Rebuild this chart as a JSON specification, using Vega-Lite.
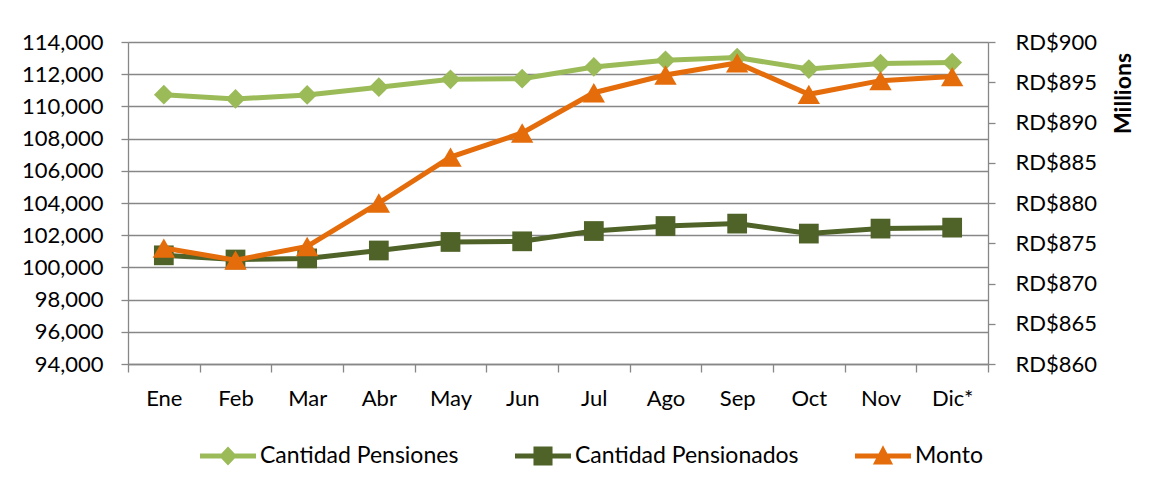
{
  "$schema": "https://vega.github.io/schema/vega-lite/v6.json",
  "width": 860,
  "height": 322,
  "autosize": {"type": "none"},
  "padding": {"left": 128, "top": 42, "right": 171, "bottom": 125},
  "background": "white",
  "config": {
    "font": "Lato",
    "view": {"stroke": null},
    "axis": {
      "labelFont": "Lato",
      "labelFontSize": 22,
      "labelColor": "#000000",
      "domainColor": "#878787",
      "domainWidth": 1.3,
      "tickColor": "#878787",
      "tickWidth": 1.3,
      "gridColor": "#878787",
      "gridWidth": 1.3,
      "titleColor": "#000000"
    },
    "legend": {
      "title": null,
      "orient": "none",
      "direction": "horizontal",
      "legendX": 72,
      "legendY": 386,
      "padding": 0,
      "labelFont": "Lato",
      "labelFontSize": 23,
      "labelColor": "#000000",
      "labelLimit": 0,
      "labelOffset": 4,
      "columnPadding": 56,
      "symbolSize": 3136,
      "symbolStrokeWidth": 0,
      "symbolOpacity": 1
    }
  },
  "datasets": {
    "conteos": [
      {"mes": "Ene", "serie": "Cantidad Pensiones", "valor": 110730},
      {"mes": "Feb", "serie": "Cantidad Pensiones", "valor": 110460},
      {"mes": "Mar", "serie": "Cantidad Pensiones", "valor": 110710},
      {"mes": "Abr", "serie": "Cantidad Pensiones", "valor": 111190},
      {"mes": "May", "serie": "Cantidad Pensiones", "valor": 111680},
      {"mes": "Jun", "serie": "Cantidad Pensiones", "valor": 111720},
      {"mes": "Jul", "serie": "Cantidad Pensiones", "valor": 112450},
      {"mes": "Ago", "serie": "Cantidad Pensiones", "valor": 112860},
      {"mes": "Sep", "serie": "Cantidad Pensiones", "valor": 113030},
      {"mes": "Oct", "serie": "Cantidad Pensiones", "valor": 112320},
      {"mes": "Nov", "serie": "Cantidad Pensiones", "valor": 112660},
      {"mes": "Dic*", "serie": "Cantidad Pensiones", "valor": 112720},
      {"mes": "Ene", "serie": "Cantidad Pensionados", "valor": 100750},
      {"mes": "Feb", "serie": "Cantidad Pensionados", "valor": 100490},
      {"mes": "Mar", "serie": "Cantidad Pensionados", "valor": 100560},
      {"mes": "Abr", "serie": "Cantidad Pensionados", "valor": 101050},
      {"mes": "May", "serie": "Cantidad Pensionados", "valor": 101580},
      {"mes": "Jun", "serie": "Cantidad Pensionados", "valor": 101620},
      {"mes": "Jul", "serie": "Cantidad Pensionados", "valor": 102260},
      {"mes": "Ago", "serie": "Cantidad Pensionados", "valor": 102570},
      {"mes": "Sep", "serie": "Cantidad Pensionados", "valor": 102720},
      {"mes": "Oct", "serie": "Cantidad Pensionados", "valor": 102100},
      {"mes": "Nov", "serie": "Cantidad Pensionados", "valor": 102410},
      {"mes": "Dic*", "serie": "Cantidad Pensionados", "valor": 102470}
    ],
    "monto": [
      {"mes": "Ene", "serie": "Monto", "valor": 874.4},
      {"mes": "Feb", "serie": "Monto", "valor": 872.9},
      {"mes": "Mar", "serie": "Monto", "valor": 874.6},
      {"mes": "Abr", "serie": "Monto", "valor": 880.0},
      {"mes": "May", "serie": "Monto", "valor": 885.7},
      {"mes": "Jun", "serie": "Monto", "valor": 888.7},
      {"mes": "Jul", "serie": "Monto", "valor": 893.7},
      {"mes": "Ago", "serie": "Monto", "valor": 895.9},
      {"mes": "Sep", "serie": "Monto", "valor": 897.4},
      {"mes": "Oct", "serie": "Monto", "valor": 893.5},
      {"mes": "Nov", "serie": "Monto", "valor": 895.2},
      {"mes": "Dic*", "serie": "Monto", "valor": 895.7}
    ]
  },
  "layer": [
    {
      "data": {"name": "conteos"},
      "encoding": {
        "x": {
          "field": "mes", "type": "nominal",
          "sort": ["Ene", "Feb", "Mar", "Abr", "May", "Jun", "Jul", "Ago", "Sep", "Oct", "Nov", "Dic*"],
          "scale": {"type": "band", "paddingInner": 0, "paddingOuter": 0},
          "axis": {"title": null, "labelAngle": 0, "tickBand": "extent", "tickSize": 8, "labelPadding": 16, "grid": false}
        },
        "y": {
          "field": "valor", "type": "quantitative",
          "scale": {"domain": [94000, 114000], "nice": false, "zero": false},
          "axis": {
            "title": null, "orient": "left", "format": ",.0f",
            "values": [94000, 96000, 98000, 100000, 102000, 104000, 106000, 108000, 110000, 112000, 114000],
            "tickSize": 7, "labelPadding": 18, "grid": true
          }
        }
      },
      "layer": [
        {
          "mark": {"type": "line", "strokeWidth": 5},
          "encoding": {
            "color": {"field": "serie", "type": "nominal",
              "scale": {"domain": ["Cantidad Pensiones", "Cantidad Pensionados", "Monto"], "range": ["#9BBB59", "#4F6228", "#E46C0A"]}}
          }
        },
        {
          "mark": {"type": "point", "filled": true, "opacity": 1, "strokeWidth": 0},
          "encoding": {
            "color": {"field": "serie", "type": "nominal",
              "legend": {
                "encode": {
                  "symbols": {
                    "update": {
                      "shape": {"signal": "datum.value === 'Monto' ? 'M-1,-0.09H1V0.09H-1Z M0,-0.38L0.36,0.3L-0.36,0.3Z' : (datum.value === 'Cantidad Pensionados' ? 'M-1,-0.09H1V0.09H-1Z M-0.34,-0.34H0.34V0.34H-0.34Z' : 'M-1,-0.09H1V0.09H-1Z M0,-0.34L0.32,0L0,0.34L-0.32,0Z')"},
                      "strokeWidth": {"value": 0},
                      "opacity": {"value": 1}
                    }
                  }
                }
              }
            },
            "shape": {"field": "serie", "type": "nominal", "legend": null,
              "scale": {"domain": ["Cantidad Pensiones", "Cantidad Pensionados"], "range": ["diamond", "square"]}},
            "size": {"value": 390}
          }
        }
      ]
    },
    {
      "data": {"name": "monto"},
      "encoding": {
        "x": {
          "field": "mes", "type": "nominal",
          "sort": ["Ene", "Feb", "Mar", "Abr", "May", "Jun", "Jul", "Ago", "Sep", "Oct", "Nov", "Dic*"],
          "scale": {"type": "band", "paddingInner": 0, "paddingOuter": 0}
        },
        "y": {
          "field": "valor", "type": "quantitative",
          "scale": {"domain": [860, 900], "nice": false, "zero": false},
          "axis": {
            "orient": "right", "title": "Millions",
            "values": [860, 865, 870, 875, 880, 885, 890, 895, 900],
            "labelExpr": "'RD$' + format(datum.value, '.0f')",
            "tickSize": 7, "labelPadding": 20, "grid": false,
            "titleFont": "Lato", "titleFontSize": 23, "titleFontWeight": "bold",
            "titleAngle": 270, "titleX": 135, "titleY": 51,
            "titleAlign": "center", "titleBaseline": "middle"
          }
        }
      },
      "layer": [
        {
          "mark": {"type": "line", "strokeWidth": 5},
          "encoding": {
            "color": {"field": "serie", "type": "nominal"}
          }
        },
        {
          "mark": {"type": "point", "filled": true, "opacity": 1, "strokeWidth": 0, "shape": "triangle-up"},
          "encoding": {
            "color": {"field": "serie", "type": "nominal"},
            "size": {"value": 500}
          }
        }
      ]
    }
  ],
  "resolve": {"scale": {"y": "independent", "shape": "independent"}}
}
